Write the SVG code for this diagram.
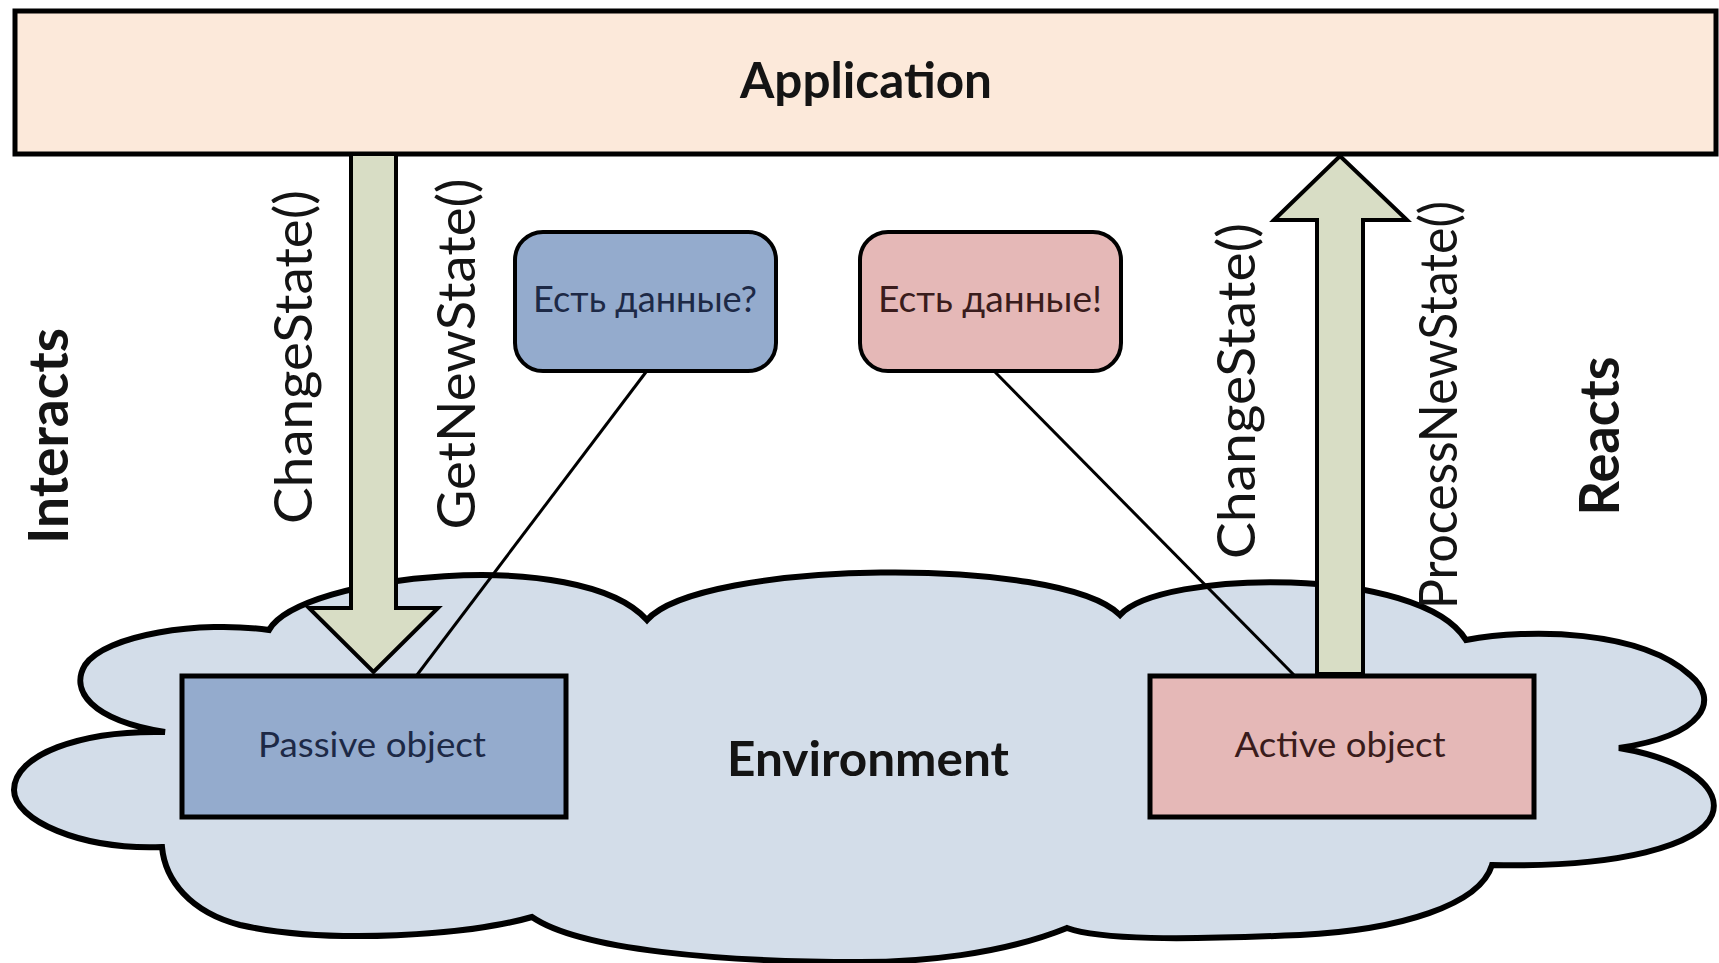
<svg xmlns="http://www.w3.org/2000/svg" width="1719" height="963" viewBox="0 0 1719 963">
<style>
  .bold { font-family: Lato, "Noto Sans", "Liberation Sans", sans-serif; font-weight: bold; fill: #141414; }
  .reg { font-family: Lato, "Noto Sans", "Liberation Sans", sans-serif; font-weight: normal; fill: #141414; }
  .navy { fill: #1d2946; }
  .brown { fill: #3a1c1c; }
  .box { stroke: #000; stroke-width: 5; stroke-linejoin: miter; }
  .rbox { stroke: #000; stroke-width: 4; }
  .arrow { fill: #d8ddc5; stroke: #000; stroke-width: 4; stroke-linejoin: miter; }
  .link { stroke: #000; stroke-width: 3; fill: none; }
</style>
<rect width="1719" height="963" fill="#ffffff"/>

<g id="environment">
  <path fill="#d3dde9" stroke="#000" stroke-width="6" stroke-linejoin="miter" d="
    M269,630
    C300,575 580,545 647,620
    C700,560 1060,555 1120,615
    C1160,570 1420,565 1466,640
    C1530,628 1640,630 1690,675
    C1720,700 1705,735 1619,748
    C1690,760 1722,790 1712,815
    C1700,845 1620,868 1492,865
    C1480,905 1400,930 1300,935
    C1180,940 1100,940 1067,928
    C1000,955 920,962 860,962
    C720,962 580,950 532,917
    C470,935 330,945 240,925
    C190,912 165,880 162,847
    C80,850 14,820 14,790
    C14,755 80,730 165,732
    C90,720 70,690 85,665
    C105,635 200,620 269,630 Z"/>
  <text class="bold" x="868" y="776" font-size="48" text-anchor="middle" textLength="282" lengthAdjust="spacingAndGlyphs">Environment</text>
</g>

<g id="application">
  <rect class="box" x="15" y="11" width="1701" height="143" fill="#fce9da"/>
  <text class="bold" x="866" y="98" font-size="50" text-anchor="middle" textLength="252" lengthAdjust="spacingAndGlyphs">Application</text>
</g>

<g id="connectors">
  <polygon class="arrow" points="351,154 396,154 396,608 438,608 373.5,672 309,608 351,608"/>
  <polygon class="arrow" points="1317,674 1363,674 1363,220 1407,220 1340,156 1274,220 1317,220"/>
  <line class="link" x1="646" y1="372" x2="417" y2="675"/>
  <line class="link" x1="995" y1="372" x2="1294" y2="675"/>
</g>

<g id="passive-object">
  <rect class="box" x="182" y="676" width="384" height="141" fill="#94abcd"/>
  <text class="reg navy" x="372" y="757" font-size="34" text-anchor="middle" textLength="228" lengthAdjust="spacingAndGlyphs">Passive object</text>
</g>

<g id="active-object">
  <rect class="box" x="1150" y="676" width="384" height="141" fill="#e5b8b7"/>
  <text class="reg brown" x="1340" y="757" font-size="34" text-anchor="middle" textLength="211" lengthAdjust="spacingAndGlyphs">Active object</text>
</g>

<g id="query-note">
  <rect class="rbox" x="515" y="232" width="261" height="139" rx="28" ry="28" fill="#94abcd"/>
  <text class="reg navy" x="645" y="312" font-size="37" text-anchor="middle" textLength="224" lengthAdjust="spacingAndGlyphs">Есть данные?</text>
</g>

<g id="data-note">
  <rect class="rbox" x="860" y="232" width="261" height="139" rx="28" ry="28" fill="#e5b8b7"/>
  <text class="reg brown" x="990" y="312" font-size="37" text-anchor="middle" textLength="224" lengthAdjust="spacingAndGlyphs">Есть данные!</text>
</g>

<g id="labels">
  <text class="bold" transform="translate(68,436) rotate(-90)" font-size="55" text-anchor="middle" textLength="216" lengthAdjust="spacingAndGlyphs">Interacts</text>
  <text class="reg" transform="translate(312,357) rotate(-90)" font-size="53" text-anchor="middle" textLength="334" lengthAdjust="spacingAndGlyphs">ChangeState()</text>
  <text class="reg" transform="translate(475,354) rotate(-90)" font-size="53" text-anchor="middle" textLength="351" lengthAdjust="spacingAndGlyphs">GetNewState()</text>
  <text class="reg" transform="translate(1255,391) rotate(-90)" font-size="53" text-anchor="middle" textLength="336" lengthAdjust="spacingAndGlyphs">ChangeState()</text>
  <text class="reg" transform="translate(1457,405) rotate(-90)" font-size="53" text-anchor="middle" textLength="408" lengthAdjust="spacingAndGlyphs">ProcessNewState()</text>
  <text class="bold" transform="translate(1619,436) rotate(-90)" font-size="55" text-anchor="middle" textLength="159" lengthAdjust="spacingAndGlyphs">Reacts</text>
</g>
</svg>
